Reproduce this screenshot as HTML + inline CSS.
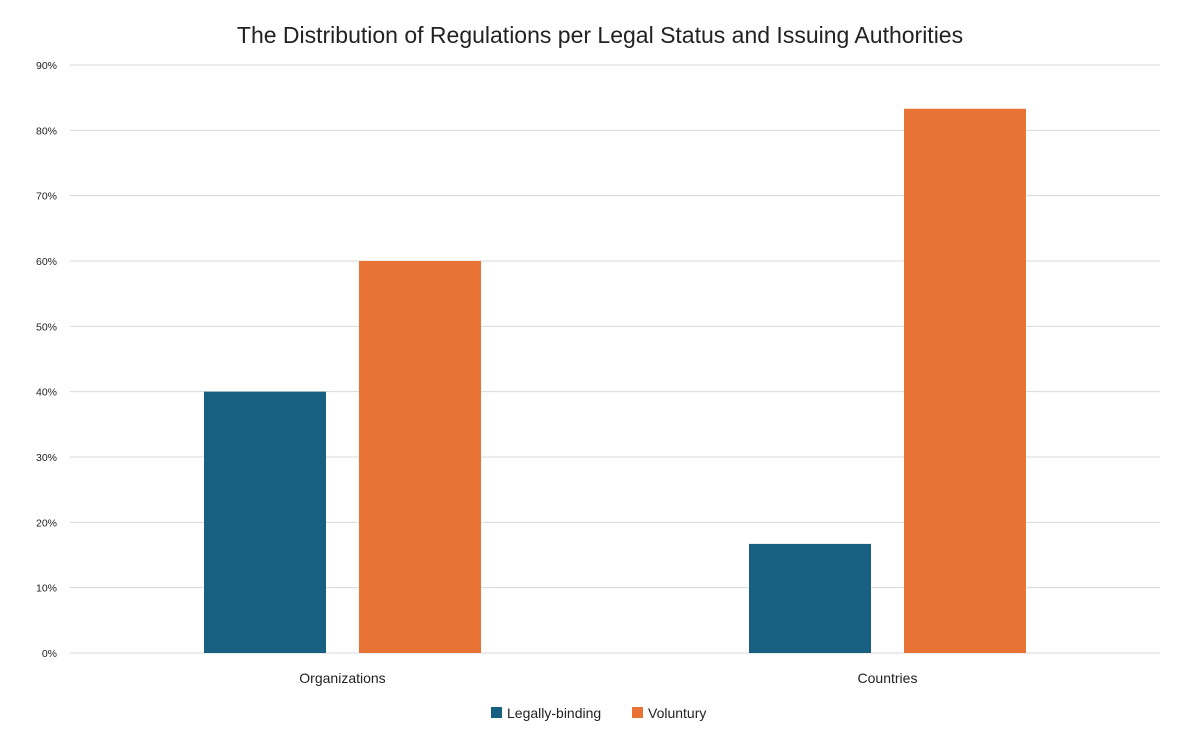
<!DOCTYPE html>
<html><head><meta charset="utf-8"><style>
body{margin:0;background:#fff;width:1200px;height:750px;overflow:hidden;font-family:"Liberation Sans",sans-serif;}
</style></head><body>
<svg id="chart" width="1200" height="750" xmlns="http://www.w3.org/2000/svg">
<text x="600" y="43" text-anchor="middle" font-size="23" fill="#222">The Distribution of Regulations per Legal Status and Issuing Authorities</text>
<g id="grid"></g><g id="bars"></g><g id="labels"></g>
<g>
<rect x="491" y="707" width="11" height="11" fill="#176082"/>
<text x="507" y="718" font-size="14" fill="#222">Legally-binding</text>
<rect x="632" y="707" width="11" height="11" fill="#e97334"/>
<text x="648" y="718" font-size="14" fill="#222">Voluntury</text>
</g>
</svg>
<script>
const categories = ["Organizations", "Countries"];
const legallyBinding = [40, 16.7];
const voluntary = [60, 83.3];
const ticks = [0,10,20,30,40,50,60,70,80,90];
const NS="http://www.w3.org/2000/svg";
const left=70,right=1160,y0=653,yTop=65,maxV=90;
const y=v=>y0-(v/maxV)*(y0-yTop);
const bandW=(right-left)/categories.length;
const grid=document.getElementById('grid'),bars=document.getElementById('bars'),labels=document.getElementById('labels');
function mk(tag,attrs,parent){const e=document.createElementNS(NS,tag);for(const k in attrs)e.setAttribute(k,attrs[k]);parent.appendChild(e);return e;}
ticks.forEach(t=>{
  const l=mk('line',{x1:left,x2:right,y1:y(t),y2:y(t),stroke:'#d9d9d9','stroke-width':1},grid);
  
  
  const tx=mk('text',{x:57,y:y(t)+4,'text-anchor':'end','font-size':10.5,fill:'#222'},labels);
  tx.textContent=t+'%';
  
  
});
categories.forEach((c,i)=>{
  const cx=left+bandW*(i+0.5);
  const bw=122,gap=33;
  const b1=mk('rect',{x:cx-gap/2-bw,y:y(legallyBinding[i]),width:bw,height:y0-y(legallyBinding[i]),fill:'#176082'},bars);
  
  
  const b2=mk('rect',{x:cx+gap/2,y:y(voluntary[i]),width:bw,height:y0-y(voluntary[i]),fill:'#e97334'},bars);
  
  
  const t=mk('text',{x:cx,y:683,'text-anchor':'middle','font-size':14,fill:'#222'},labels);
  t.textContent=c;
  
  
});
</script>
</body></html>
